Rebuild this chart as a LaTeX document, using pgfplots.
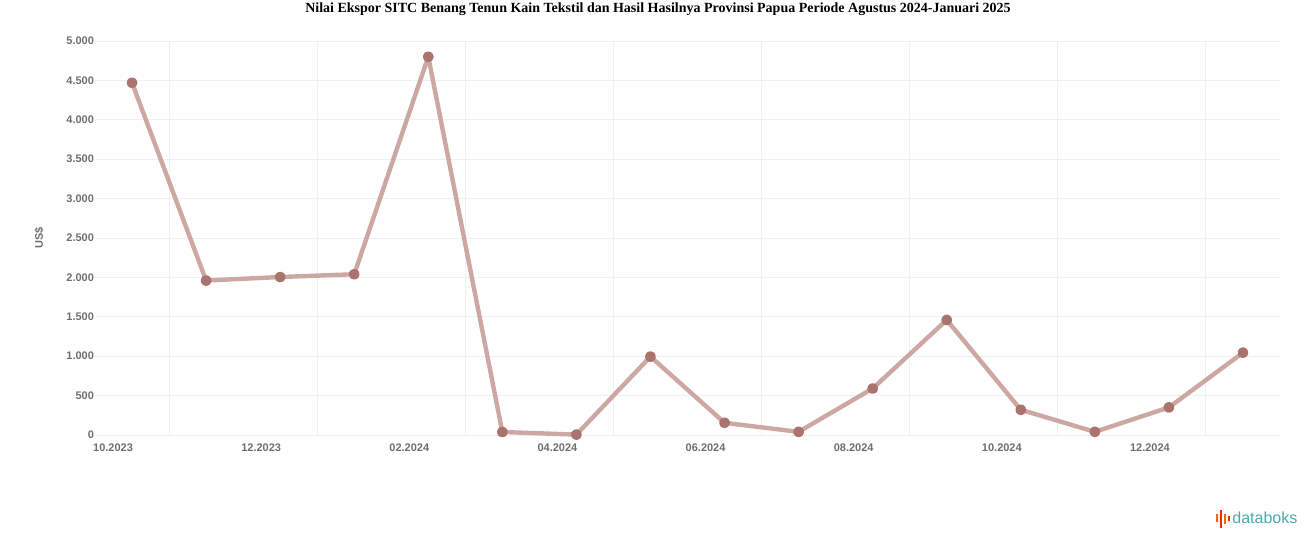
\documentclass[border=0pt]{standalone}
\usepackage{pgfplots}
\pgfplotsset{compat=1.18}
\usepackage{fontspec}
\setmainfont{Liberation Sans}
\newfontfamily\titlefont{Liberation Serif}
\definecolor{linec}{RGB}{205,168,163}
\definecolor{markc}{RGB}{170,115,110}
\definecolor{gridc}{RGB}{240,240,240}
\definecolor{tickc}{RGB}{110,110,110}
\definecolor{teal}{RGB}{72,172,168}
\begin{document}
\begin{tikzpicture}
\path[use as bounding box] (0pt,0pt) rectangle (658pt,273.5pt);
\node[font=\titlefont\bfseries\fontsize{7}{8}\selectfont, anchor=center] at (329pt,269pt) {Nilai Ekspor SITC Benang Tenun Kain Tekstil dan Hasil Hasilnya Provinsi Papua Periode Agustus 2024-Januari 2025};
\begin{axis}[
  at={(47.5pt,56pt)}, anchor=south west,
  width=592.5pt, height=197pt, scale only axis,
  xmin=-0.5, xmax=15.5, ymin=0, ymax=5000,
  axis line style={draw=none},
  major tick style={draw=none}, minor tick style={draw=none},
  xtick={0,2,4,6,8,10,12,14},
  xticklabels={10.2023,12.2023,02.2024,04.2024,06.2024,08.2024,10.2024,12.2024},
  minor xtick={0.5,2.5,4.5,6.5,8.5,10.5,12.5,14.5},
  xminorgrids=true, ymajorgrids=true,
  grid style={gridc, line width=0.5pt},
  minor grid style={gridc, line width=0.5pt},
  ytick={0,500,...,5000},
  /pgf/number format/assume math mode=true,
  /pgf/number format/.cd, 1000 sep={.}, /pgfplots/.cd,
  scaled y ticks=false,
  ticklabel style={font=\fontsize{5.5}{6}\selectfont\bfseries, text=tickc},
  xticklabel style={anchor=north east, xshift=4pt, yshift=-1pt},
  yticklabel style={xshift=3pt},
  ylabel={US\$}, ylabel style={font=\fontsize{5.5}{6}\selectfont\bfseries, text=tickc, yshift=4.5pt},
  clip=false,
]
\addplot[color=linec, line width=2.2pt, line join=round, mark=*, mark size=1.6pt, mark options={fill=markc, draw=markc}]
coordinates {
(0,4470) (1,1960) (2,2005) (3,2040) (4,4800) (5,38) (6,5) (7,995) (8,155) (9,40) (10,590) (11,1460) (12,320) (13,40) (14,350) (15,1045)
};
\end{axis}
% databoks logo
\fill[orange!80!red] (608pt,12.5pt) rectangle (609pt,16.5pt);
\fill[red!70!orange] (610pt,9.5pt) rectangle (611pt,18.5pt);
\fill[orange!80!red] (612pt,11.5pt) rectangle (613pt,16.5pt);
\fill[red!70!orange] (614pt,13pt) rectangle (615pt,15.5pt);
\node[anchor=west, font=\fontsize{8}{9}\selectfont, text=teal, inner sep=0pt] at (616pt,14.5pt) {databoks};
\end{tikzpicture}
\end{document}
